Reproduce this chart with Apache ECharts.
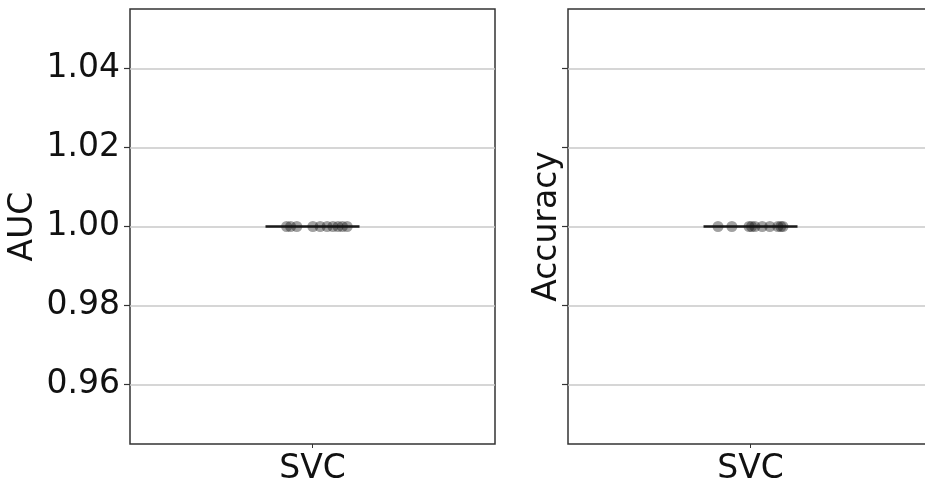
<!DOCTYPE html>
<html>
<head>
<meta charset="utf-8">
<script src="https://cdn.jsdelivr.net/npm/echarts@6/dist/echarts.min.js"></script>
<style>html,body{margin:0;padding:0;background:#fff;overflow:hidden;width:925px;height:486px;}#c{width:934px;height:486px;}</style>
</head>
<body>
<div id="c"></div>
<script>
const categories = ['SVC'];
const yTicks = [0.96, 0.98, 1.00, 1.02, 1.04];
const aucValues = [1, 1, 1, 1, 1, 1, 1, 1, 1, 1];
const aucJitter = [-0.071, -0.060, -0.043, 0.001, 0.021, 0.040, 0.056, 0.070, 0.082, 0.095];
const accValues = [1, 1, 1, 1, 1, 1, 1, 1, 1, 1];
const accJitter = [-0.089, -0.051, -0.004, 0.003, 0.012, 0.032, 0.053, 0.075, 0.083, 0.089];

const chart = echarts.init(document.getElementById('c'));
const font = 'DejaVu Sans';
const axisColor = '#333';
const fs = 33;

function boxStats(v) {
  const s = v.slice().sort((a, b) => a - b);
  const q = p => { const i = (s.length - 1) * p; const lo = Math.floor(i), hi = Math.ceil(i); return s[lo] + (s[hi] - s[lo]) * (i - lo); };
  return [s[0], q(0.25), q(0.5), q(0.75), s[s.length - 1]];
}

function yAxis(gi, name, showLabels) {
  return {
    type: 'value', gridIndex: gi, min: 0.945, max: 1.055,
    name: name, nameLocation: 'middle', nameGap: showLabels ? 90 : 4,
    nameTextStyle: { fontFamily: font, fontSize: fs, color: '#111' },
    axisLine: { show: false, onZero: false },
    axisTick: { show: true, length: 6, customValues: yTicks, lineStyle: { color: axisColor, width: 1.2 } },
    axisLabel: { show: showLabels, customValues: yTicks, formatter: v => v.toFixed(2), fontFamily: font, fontSize: fs, color: '#111', margin: 10 },
    splitLine: { show: true, lineStyle: { color: '#c8c8c8', width: 1.5 } }
  };
}

function catAxis(gi) {
  return { type: 'category', gridIndex: gi, data: categories, axisLine: { show: false, onZero: false }, axisTick: { show: true, alignWithLabel: true, length: 4, lineStyle: { color: axisColor } }, axisLabel: { fontFamily: font, fontSize: fs, color: '#111', margin: 9 } };
}

const option = {
  animation: false,
  backgroundColor: '#fff',
  grid: [
    { left: 130, top: 9, width: 365, height: 435, show: true, borderColor: axisColor, borderWidth: 1.5, backgroundColor: 'transparent' },
    { left: 568, top: 9, width: 365, height: 435, show: true, borderColor: axisColor, borderWidth: 1.5, backgroundColor: 'transparent' }
  ],
  xAxis: [
    catAxis(0), catAxis(1),
    { type: 'value', gridIndex: 0, min: -0.5, max: 0.5, show: false },
    { type: 'value', gridIndex: 1, min: -0.5, max: 0.5, show: false }
  ],
  yAxis: [yAxis(0, 'AUC', true), yAxis(1, 'Accuracy', false)],
  series: [
    { type: 'boxplot', xAxisIndex: 0, yAxisIndex: 0, data: [boxStats(aucValues)], boxWidth: [94, 94], itemStyle: { color: 'transparent', borderColor: '#1a1a1a', borderWidth: 2.5 }, z: 2 },
    { type: 'boxplot', xAxisIndex: 1, yAxisIndex: 1, data: [boxStats(accValues)], boxWidth: [94, 94], itemStyle: { color: 'transparent', borderColor: '#1a1a1a', borderWidth: 2.5 }, z: 2 },
    { type: 'scatter', xAxisIndex: 2, yAxisIndex: 0, data: aucValues.map((v, i) => [aucJitter[i], v]), symbolSize: 11, itemStyle: { color: 'rgba(20,20,20,0.5)' }, z: 3 },
    { type: 'scatter', xAxisIndex: 3, yAxisIndex: 1, data: accValues.map((v, i) => [accJitter[i], v]), symbolSize: 11, itemStyle: { color: 'rgba(20,20,20,0.5)' }, z: 3 }
  ]
};
chart.setOption(option);
</script>
</body>
</html>
